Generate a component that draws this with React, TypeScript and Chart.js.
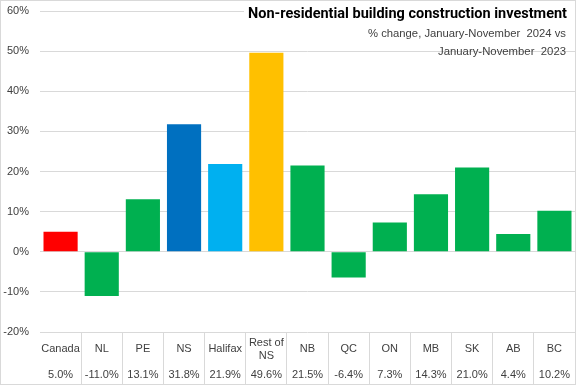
import React, { useEffect, useRef } from "react";
import { Chart, registerables } from "chart.js";

Chart.register(...registerables);

const categories = ["Canada", "NL", "PE", "NS", "Halifax", "Rest of NS", "NB", "QC", "ON", "MB", "SK", "AB", "BC"];
const categoryLines: string[][] = [["Canada"], ["NL"], ["PE"], ["NS"], ["Halifax"], ["Rest of", "NS"], ["NB"], ["QC"], ["ON"], ["MB"], ["SK"], ["AB"], ["BC"]];
const values = [5.0, -11.0, 13.1, 31.8, 21.9, 49.6, 21.5, -6.4, 7.3, 14.3, 21.0, 4.4, 10.2];
const valueLabels = ["5.0%", "-11.0%", "13.1%", "31.8%", "21.9%", "49.6%", "21.5%", "-6.4%", "7.3%", "14.3%", "21.0%", "4.4%", "10.2%"];
const barColors = ["#FF0000", "#00B050", "#00B050", "#0070C0", "#00B0F0", "#FFC000", "#00B050", "#00B050", "#00B050", "#00B050", "#00B050", "#00B050", "#00B050"];
const yMin = -20;
const yMax = 60;
const yStep = 10;
const title = "Non-residential building construction investment";
const subtitleLines = ["% change, January-November  2024 vs", "January-November  2023"];

const GRID = "#d9d9d9";
const TEXT = "#404040";
const FONT = "'Liberation Sans', Arial, sans-serif";

function drawFit(ctx: CanvasRenderingContext2D, text: string, right: number, baseline: number, width: number, font: string, color: string) {
  ctx.save();
  ctx.font = font;
  ctx.fillStyle = color;
  ctx.textAlign = "right";
  ctx.textBaseline = "alphabetic";
  const w = ctx.measureText(text).width;
  const s = w > 0 ? width / w : 1;
  ctx.translate(right, baseline);
  ctx.scale(s, 1);
  ctx.fillText(text, 0, 0);
  ctx.restore();
}

const tablePlugin = {
  id: "tableAndTitle",
  afterDraw(chart: any) {
    const { ctx, scales } = chart;
    const x = scales.x;
    ctx.save();
    ctx.fillStyle = TEXT;
    ctx.font = `11px ${FONT}`;
    ctx.textAlign = "center";
    ctx.textBaseline = "middle";
    categoryLines.forEach((lines, i) => {
      const px = x.getPixelForValue(i);
      if (lines.length === 1) {
        ctx.fillText(lines[0], px, 349);
      } else {
        lines.forEach((l, j) => ctx.fillText(l, px, 342.5 + j * 13.5));
      }
      ctx.fillText(valueLabels[i], px, 375);
    });
    ctx.strokeStyle = GRID;
    ctx.lineWidth = 1;
    ctx.strokeRect(0.5, 0.5, 575, 384);
    ctx.fillStyle = "#ffffff";
    ctx.fillRect(244, 1, 331, 21);
    ctx.restore();
    drawFit(ctx, title, 567, 17.5, 319, `bold 15px Roboto, ${FONT}`, "#000000");
    drawFit(ctx, subtitleLines[0], 566, 37, 198, `11.5px ${FONT}`, TEXT);
    drawFit(ctx, subtitleLines[1], 566, 54.5, 128, `11.5px ${FONT}`, TEXT);
  },
};

export default function App() {
  const ref = useRef<HTMLCanvasElement | null>(null);
  useEffect(() => {
    document.body.style.margin = "0";
    const canvas = ref.current;
    if (!canvas) return;
    const chart = new Chart(canvas, {
      type: "bar",
      data: {
        labels: categories,
        datasets: [
          {
            data: values,
            backgroundColor: barColors,
            borderWidth: 0,
            barPercentage: 0.83,
            categoryPercentage: 1,
          },
        ],
      },
      options: {
        animation: false,
        responsive: false,
        devicePixelRatio: 1,
        layout: { padding: { top: 11, right: 2, left: 0, bottom: 0 } },
        plugins: { legend: { display: false }, tooltip: { enabled: false }, title: { display: false } },
        scales: {
          x: {
            offset: true,
            border: { display: false },
            grid: {
              offset: true,
              drawOnChartArea: false,
              drawTicks: true,
              tickLength: 53,
              color: (c: any) => (c.index === 0 ? "rgba(0,0,0,0)" : GRID),
            },
            ticks: { display: false },
            afterFit: (s: any) => {
              s.height = 53;
              s.paddingLeft = 0;
              s.paddingRight = 0;
            },
          },
          y: {
            min: yMin,
            max: yMax,
            border: { display: false },
            grid: { color: GRID, drawTicks: false },
            ticks: {
              stepSize: yStep,
              padding: 11,
              color: TEXT,
              font: { family: FONT, size: 11 },
              callback: (v: any) => `${v}%`,
            },
            afterFit: (s: any) => {
              s.width = 40;
              s.paddingTop = 0;
              s.paddingBottom = 0;
            },
          },
        },
      },
      plugins: [tablePlugin],
    });
    return () => chart.destroy();
  }, []);
  return (
    <div style={{ width: 577, height: 385 }}>
      <canvas ref={ref} width={577} height={385} style={{ display: "block" }} />
    </div>
  );
}
